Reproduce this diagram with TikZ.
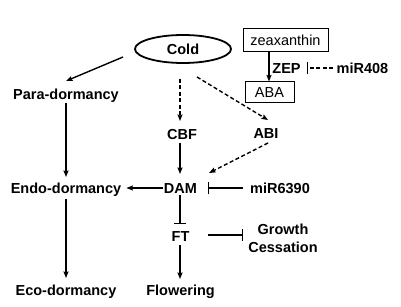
\documentclass[tikz,border=0pt]{standalone}
\usepackage{fontspec}
\newfontfamily\arialf{Liberation Sans}
\usetikzlibrary{arrows.meta,shapes.geometric}
\tikzset{
  lbl/.style={font=\arialf\bfseries\fontsize{14.5}{18}\selectfont, inner sep=0pt, text height=10.4pt, text depth=0pt},
  lbltwo/.style={font=\arialf\bfseries\fontsize{14.5}{18}\selectfont, inner sep=0pt, align=center},
  boxed/.style={draw, line width=1pt, font=\arialf\fontsize{14.5}{18}\selectfont, inner sep=0pt},
  arr/.style={line width=1.4pt, -{Stealth[length=6.5pt,width=5pt,inset=1pt]}},
  darr/.style={arr, dash pattern=on 4pt off 2.5pt},
  inh/.style={line width=1.4pt, -{Bar[width=12pt,line width=1.4pt]}},
  dinh/.style={inh, dash pattern=on 4pt off 2.5pt},
}
\begin{document}
\begin{tikzpicture}[x=1pt,y=-1pt]
\useasboundingbox (0,0) rectangle (401,307);
% nodes
\node[ellipse, draw, line width=1.8pt, minimum width=96pt, minimum height=28pt, inner sep=0pt, font=\arialf\bfseries\fontsize{14.5}{18}\selectfont] (cold) at (183,49) {Cold};
\node[lbl] (para) at (66,94) {Para-dormancy};
\node[lbl] (endo) at (66,188) {Endo-dormancy};
\node[lbl] (eco) at (66,290) {Eco-dormancy};
\node[lbl] (cbf) at (182,134) {CBF};
\node[lbl] (dam) at (180.5,188) {DAM};
\node[lbl] (ft) at (180.5,236.5) {FT};
\node[lbl] (flow) at (180.5,290.5) {Flowering};
\node[lbl] (abi) at (266,133) {ABI};
\node[lbl] (mir6390) at (280,188) {miR6390};
\node[lbltwo] (growth) at (283,238) {Growth\\Cessation};
\node[boxed, minimum width=85pt, minimum height=23pt] (zea) at (285.5,40.5) {zeaxanthin};
\node[boxed, minimum width=49pt, minimum height=21pt] (aba) at (269.5,92.5) {ABA};
\node[lbl] (zep) at (286.5,68) {ZEP};
\node[lbl] (mir408) at (362.5,68) {miR408};
% connectors
\draw[arr] ([shift={(-60,8)}]cold.center) -- ([shift={(0,-13)}]para.center);
\draw[arr] ([shift={(0,9)}]para.center) -- ([shift={(0,-11)}]endo.center);
\draw[arr] ([shift={(0,11)}]endo.center) -- ([shift={(0,-12)}]eco.center);
\draw[darr] ([shift={(-3,30)}]cold.center) -- ([shift={(-2,-13)}]cbf.center);
\draw[arr] ([shift={(-2,9)}]cbf.center) -- ([shift={(-0.5,-14)}]dam.center);
\draw[darr] ([shift={(14,28)}]cold.center) -- ([shift={(2,-13)}]abi.center);
\draw[darr] ([shift={(2,10)}]abi.center) -- ([shift={(28.5,-15)}]dam.center);
\draw[arr] ([shift={(-17.5,0)}]dam.center) -- ([shift={(5,0)}]endo.east);
\draw[inh] ([shift={(-0.5,7)}]dam.center) -- ([shift={(-0.5,-12.5)}]ft.center);
\draw[arr] ([shift={(-0.5,8.5)}]ft.center) -- ([shift={(-0.5,-11.5)}]flow.center);
\draw[inh] ([shift={(27.5,-1.5)}]ft.center) -- ([shift={(-40,-3)}]growth.center);
\draw[inh] ([shift={(-37,0)}]mir6390.center) -- ([shift={(-72,0)}]mir6390.center);
\draw[arr] (zea.south -| 269,0) -- (aba.north -| 269,0);
\draw[dinh] ([shift={(-29.5,0)}]mir408.center) -- ([shift={(-55.5,0)}]mir408.center);
\end{tikzpicture}
\end{document}
